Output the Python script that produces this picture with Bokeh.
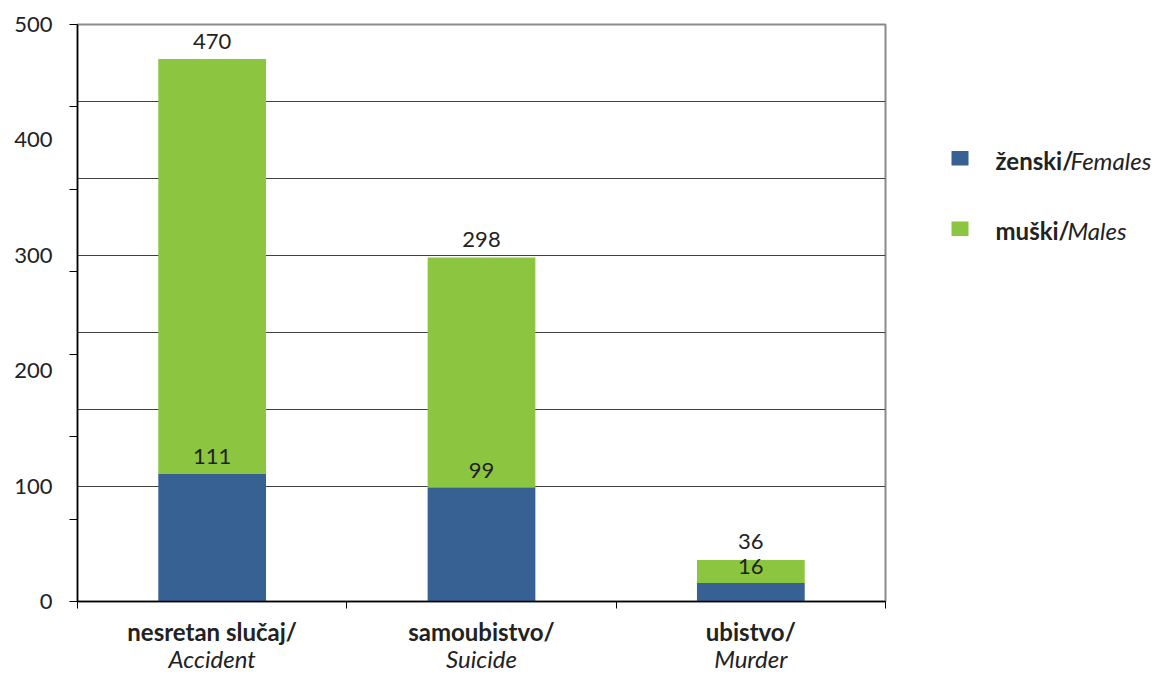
from bokeh.plotting import figure
from bokeh.layouts import row
from bokeh.models import Range1d, FixedTicker, LinearAxis, ColumnDataSource
from bokeh.embed import file_html
from bokeh.resources import INLINE
from bokeh.core.properties import value

# ---- data ----
categories_sr = ["nesretan slučaj/", "samoubistvo/", "ubistvo/"]
categories_en = ["Accident", "Suicide", "Murder"]
females = [111, 99, 16]
totals = [470, 298, 36]
males = [t - f for t, f in zip(totals, females)]
series_sr = ["ženski/", "muški/"]
series_en = ["Females", "Males"]
y_ticks = [0, 100, 200, 300, 400, 500]

# ---- style ----
FONT = "Lato"
FS = "22px"       # numbers
FS_CAT = "24px"   # category / legend texts
TXT = "#222222"
BLUE = "#376193"
GREEN = "#8cc540"
W, H = 1165, 675
MAIN_W = 890
FL, FR, FT, FB = 77, 885, 24, 602  # frame edges (canvas px)
YMAX = 500

xs = list(range(len(categories_sr)))
source = ColumnDataSource(dict(
    x=xs, females=females, males=males, totals=totals,
    flab=[str(v) for v in females], tlab=[str(v) for v in totals],
))

p = figure(width=MAIN_W, height=H, output_backend="svg", toolbar_location=None,
           x_range=Range1d(-0.5, len(xs) - 0.5), y_range=Range1d(0, YMAX),
           min_border_left=FL, min_border_right=MAIN_W - FR,
           min_border_top=FT, min_border_bottom=H - FB)
p.background_fill_color = "white"
p.border_fill_color = "white"
p.outline_line_color = "#8a8a8a"
p.outline_line_width = 2

p.vbar_stack(["females", "males"], x="x", width=0.4, color=[BLUE, GREEN],
             line_color=None, source=source)

p.text(x="x", y="totals", text="tlab", source=source, text_align="center",
       text_baseline="middle", y_offset=-18, text_font=value(FONT),
       text_font_size=FS, text_color=TXT)
p.text(x="x", y="females", text="flab", source=source, text_align="center",
       text_baseline="middle", y_offset=-17, text_font=value(FONT),
       text_font_size=FS, text_color=TXT)

# y axis
ya = p.yaxis[0]
ya.ticker = FixedTicker(ticks=y_ticks, minor_ticks=[i * YMAX / 7 for i in range(8)])
ya.major_tick_out = 0
ya.major_tick_in = 0
ya.minor_tick_out = 8
ya.minor_tick_in = 0
ya.minor_tick_line_color = "black"
ya.axis_line_color = "black"
ya.axis_line_width = 1.5
ya.major_label_standoff = 17
ya.major_label_text_font = FONT
ya.major_label_text_font_size = FS
ya.major_label_text_color = TXT

p.ygrid.ticker = FixedTicker(ticks=[100 + k * 200 / 3 for k in range(6)])
p.ygrid.grid_line_color = "#404040"
p.ygrid.grid_line_width = 1
p.xgrid.grid_line_color = None

# x axis (two lines: bold Serbian, italic English)
xa = p.below[0]
xa.ticker = FixedTicker(ticks=xs, minor_ticks=[x - 0.5 for x in xs] + [xs[-1] + 0.5])
xa.major_label_overrides = {x: s for x, s in zip(xs, categories_sr)}
xa.major_tick_out = 0
xa.major_tick_in = 0
xa.minor_tick_out = 7
xa.minor_tick_in = 0
xa.minor_tick_line_color = "black"
xa.axis_line_color = "black"
xa.axis_line_width = 1.5
xa.major_label_standoff = 8
xa.major_label_text_font = FONT
xa.major_label_text_font_size = FS_CAT
xa.major_label_text_font_style = "bold"
xa.major_label_text_color = TXT

xa2 = LinearAxis(ticker=FixedTicker(ticks=xs),
                 major_label_overrides={x: s for x, s in zip(xs, categories_en)},
                 axis_line_color=None, major_tick_line_color=None,
                 minor_tick_line_color=None, major_tick_out=0, major_tick_in=0,
                 minor_tick_out=0, minor_tick_in=0, major_label_standoff=-5,
                 major_label_text_font=FONT, major_label_text_font_size=FS_CAT,
                 major_label_text_font_style="italic", major_label_text_color=TXT)
p.add_layout(xa2, "below")

# ---- legend panel (mixed bold / italic text) ----
LW = W - MAIN_W
lg = figure(width=LW, height=H, output_backend="svg", toolbar_location=None,
            x_range=Range1d(MAIN_W, W), y_range=Range1d(H, 0),
            x_axis_location=None, y_axis_location=None,
            min_border=0, outline_line_color=None)
lg.grid.grid_line_color = None
lg.background_fill_color = "white"
lg.border_fill_color = "white"

row_y = [156.5, 239.0]       # legend row centres (px)
sq_x, txt_x = 959.5, 995     # square centre, text start (px)
it_x = [1070, 1067]          # italic part start (px)
lg.rect(x=[sq_x] * 2, y=row_y, width=17, height=17, color=[BLUE, GREEN], line_color=None)
lg.text(x=[txt_x] * 2, y=row_y, y_offset=2, text=series_sr, text_font=value(FONT),
        text_font_size=FS_CAT, text_font_style="bold", text_baseline="middle", text_color=TXT)
lg.text(x=it_x, y=row_y, y_offset=2, text=series_en, text_font=value(FONT),
        text_font_size=FS_CAT, text_font_style="italic", text_baseline="middle", text_color=TXT)

layout = row(p, lg)
open("out.html", "w").write(file_html(layout, INLINE))
